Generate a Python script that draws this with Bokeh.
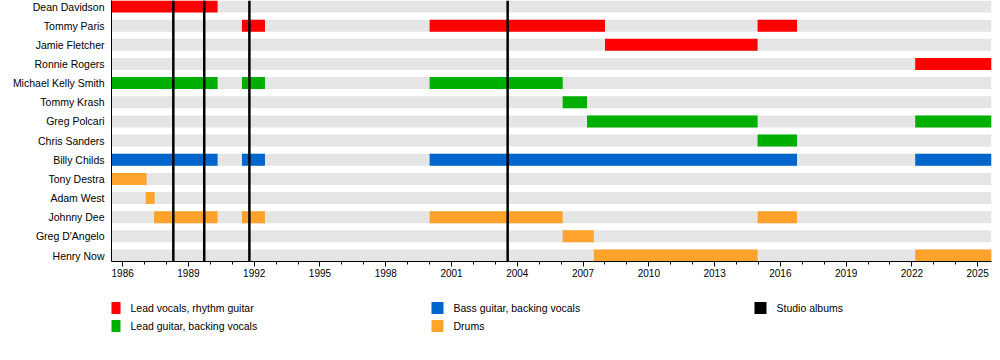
from bokeh.plotting import figure
from bokeh.models import Range1d, FixedTicker
from bokeh.layouts import column
from bokeh.embed import file_html
from bokeh.resources import INLINE
from bokeh.core.properties import value

# ---------------- data ----------------
members = ["Dean Davidson", "Tommy Paris", "Jamie Fletcher", "Ronnie Rogers",
           "Michael Kelly Smith", "Tommy Krash", "Greg Polcari", "Chris Sanders",
           "Billy Childs", "Tony Destra", "Adam West", "Johnny Dee",
           "Greg D'Angelo", "Henry Now"]

roles = ["Lead vocals, rhythm guitar", "Lead guitar, backing vocals",
         "Bass guitar, backing vocals", "Drums"]
role_colors = ["#ff0000", "#00b000", "#0066cc", "#ffa32c"]

timeline_start = 1985.49
timeline_end = 2025.63

bar_member = ["Dean Davidson",
              "Tommy Paris", "Tommy Paris", "Tommy Paris",
              "Jamie Fletcher",
              "Ronnie Rogers",
              "Michael Kelly Smith", "Michael Kelly Smith", "Michael Kelly Smith",
              "Tommy Krash",
              "Greg Polcari", "Greg Polcari",
              "Chris Sanders",
              "Billy Childs", "Billy Childs", "Billy Childs", "Billy Childs",
              "Tony Destra",
              "Adam West",
              "Johnny Dee", "Johnny Dee", "Johnny Dee", "Johnny Dee",
              "Greg D'Angelo",
              "Henry Now", "Henry Now"]
bar_start = [1985.49,
             1991.44, 2000.0, 2014.96,
             2008.0,
             2022.15,
             1985.49, 1991.44, 2000.0,
             2006.07,
             2007.18, 2022.15,
             2014.96,
             1985.49, 1991.44, 2000.0, 2022.15,
             1985.49,
             1987.05,
             1987.43, 1991.44, 2000.0, 2014.96,
             2006.07,
             2007.49, 2022.15]
bar_end = [1990.33,
           1992.49, 2008.0, 2016.76,
           2014.96,
           2025.63,
           1990.33, 1992.49, 2006.07,
           2007.18,
           2014.96, 2025.63,
           2016.76,
           1990.33, 1992.49, 2016.76, 2025.63,
           1987.09,
           1987.46,
           1990.33, 1992.49, 2006.07, 2016.76,
           2007.49,
           2014.96, 2025.63]
bar_role = [0,
            0, 0, 0,
            0,
            0,
            1, 1, 1,
            1,
            1, 1,
            1,
            2, 2, 2, 2,
            3,
            3,
            3, 3, 3, 3,
            3,
            3, 3]

albums = [1988.31, 1989.72, 1991.78, 2003.56]
album_label = "Studio albums"

major_years = list(range(1986, 2026, 3))
minor_years = list(range(1985, 2026))

# ---------------- main timeline ----------------
FONT = "Liberation Sans"
n = len(members)
pad = 0.313
bar_h = 0.627
W = 992
LEFT = 111
RIGHT = 1

p = figure(width=W, height=291,
           x_range=Range1d(timeline_start, timeline_end),
           y_range=Range1d(n - 1 + pad, -pad),
           output_backend="svg", toolbar_location=None,
           min_border_left=LEFT, min_border_right=RIGHT,
           min_border_top=0, min_border_bottom=30)
p.outline_line_color = None
p.grid.visible = False

rows = list(range(n))
p.hbar(y=rows, left=timeline_start, right=timeline_end, height=bar_h,
       fill_color="#e5e5e5", line_color=None)

bar_y = [members.index(m) for m in bar_member]
bar_color = [role_colors[r] for r in bar_role]
p.hbar(y=bar_y, left=bar_start, right=bar_end, height=bar_h,
       fill_color=bar_color, line_color=None)

p.segment(x0=albums, x1=albums, y0=-pad, y1=n - 1 + pad,
          line_color="black", line_width=2.5)

# x axis
xa = p.xaxis[0]
xa.ticker = FixedTicker(ticks=major_years, minor_ticks=minor_years)
xa.major_tick_in = 0
xa.major_tick_out = 5
xa.minor_tick_in = 0
xa.minor_tick_out = 3
xa.major_label_standoff = 2
xa.major_label_text_font = FONT
xa.major_label_text_font_size = "10px"
xa.major_label_text_color = "black"
xa.axis_line_color = "black"

# y axis
ya = p.yaxis[0]
ya.ticker = FixedTicker(ticks=rows)
ya.major_label_overrides = {i: m for i, m in enumerate(members)}
ya.major_tick_in = 0
ya.major_tick_out = 0
ya.minor_tick_in = 0
ya.minor_tick_out = 0
ya.major_label_standoff = 7
ya.major_label_text_font = FONT
ya.major_label_text_font_size = "10.5px"
ya.major_label_text_color = "black"
ya.axis_line_color = "black"

# ---------------- legend ----------------
lg_h = 45
lg = figure(width=W, height=lg_h,
            x_range=Range1d(LEFT, W - RIGHT), y_range=Range1d(lg_h, 0),
            x_axis_type=None, y_axis_type=None,
            output_backend="svg", toolbar_location=None,
            min_border_left=LEFT, min_border_right=RIGHT,
            min_border_top=0, min_border_bottom=0)
lg.outline_line_color = None
lg.grid.visible = False

leg_labels = roles + [album_label]
leg_colors = role_colors + ["black"]
leg_x = [108, 108, 431, 431, 754]
leg_y = [16.5, 34.5, 16.5, 34.5, 16.5]
lg.rect(x=[x + 6 for x in leg_x], y=leg_y, width=12, height=12,
        fill_color=leg_colors, line_color=None)
lg.text(x=[x + 22 for x in leg_x], y=leg_y, text=leg_labels,
        text_baseline="middle", text_align="left",
        text_font=value(FONT), text_font_size="10.5px", text_color="black")

layout = column(p, lg, spacing=0)

open("out.html", "w").write(file_html(layout, INLINE))
